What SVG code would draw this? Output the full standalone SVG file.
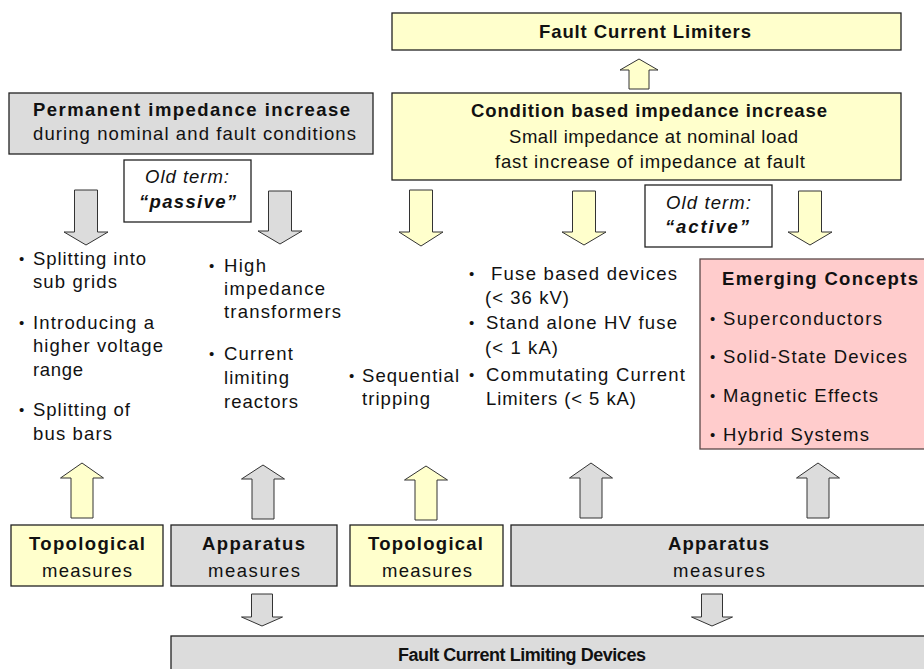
<svg xmlns="http://www.w3.org/2000/svg" width="924" height="669" viewBox="0 0 924 669">
  <style>
    .box { stroke: #222; stroke-width: 1.3; }
    .yel { fill: #FFFFCC; }
    .gry { fill: #DCDCDC; }
    .pnk { fill: #FFCCCC; stroke: #5a4848; }
    .wht { fill: #FFFFFF; }
    .arr { stroke: #333; stroke-width: 1; stroke-linejoin: miter; }
    text { font-family: "Liberation Sans", Arial, sans-serif; font-size: 18.5px; fill: #111; }
    .b { font-weight: bold; }
    .i { font-style: italic; }
    .dot { font-size: 15px; }
    .sm { font-size: 18px; }
  </style>

  <rect x="0" y="0" width="924" height="669" fill="#FFFFFF"/>

  <!-- arrows between the levels -->
  <g id="connectors">
    <!-- condition based -> fault current limiters -->
    <path class="arr yel" d="M629,89 V70 H620 L639,59 L658,70 H649 V89 Z"/>
    <!-- impedance classes -> measures lists -->
    <path class="arr gry" d="M74.5,190 H97.5 V232 H108 L86,245 L64,232 H74.5 Z"/>
    <path class="arr gry" d="M268.5,191 H291.5 V231 H302 L280,244 L258,231 H268.5 Z"/>
    <path class="arr yel" d="M409.5,190 H432.5 V232 H443 L421,246 L399,232 H409.5 Z"/>
    <path class="arr yel" d="M572.5,191 H595.5 V232 H606 L584,245 L562,232 H572.5 Z"/>
    <path class="arr yel" d="M798.5,191 H821.5 V232 H832 L810,245 L788,232 H798.5 Z"/>
    <!-- measures -> lists -->
    <path class="arr yel" d="M71,518 V478 H60.5 L82,463 L103.5,478 H93 V518 Z"/>
    <path class="arr gry" d="M252,519 V479 H241.5 L263,465 L284.5,479 H274 V519 Z"/>
    <path class="arr yel" d="M415,520 V480 H404.5 L426,466 L447.5,480 H437 V520 Z"/>
    <path class="arr gry" d="M580,518 V478 H569.5 L591,463 L612.5,478 H602 V518 Z"/>
    <path class="arr gry" d="M807,518 V478 H796.5 L818,463 L839.5,478 H829 V518 Z"/>
    <!-- apparatus measures -> devices -->
    <path class="arr gry" d="M251.5,594 H272.5 V617 H282.5 L262,626 L241.5,617 H251.5 Z"/>
    <path class="arr gry" d="M701.5,594 H722.5 V617 H732.5 L712,626 L691.5,617 H701.5 Z"/>
  </g>

  <g id="fault-current-limiters">
    <rect class="box yel" x="392" y="13" width="509" height="37"/>
    <text class="b" x="539" y="38" textLength="212">Fault Current Limiters</text>
  </g>

  <g id="condition-based">
    <rect class="box yel" x="392" y="93" width="509" height="87"/>
    <text class="b" x="471" y="117" textLength="356">Condition based impedance increase</text>
    <text x="509" y="143" textLength="289">Small impedance at nominal load</text>
    <text x="495" y="168" textLength="310">fast increase of impedance at fault</text>
  </g>

  <g id="permanent">
    <rect class="box gry" x="9" y="93" width="364" height="61"/>
    <text class="b" x="33" y="116" textLength="317">Permanent impedance increase</text>
    <text x="33" y="140" textLength="323">during nominal and fault conditions</text>
  </g>

  <g id="old-term-passive">
    <rect class="box wht" x="124" y="160" width="127" height="62"/>
    <text class="i" x="145" y="183" textLength="84">Old term:</text>
    <text class="b i" x="139" y="208" textLength="97">“passive”</text>
  </g>

  <g id="old-term-active">
    <rect class="box wht" x="645" y="185" width="127" height="62"/>
    <text class="i" x="666" y="209" textLength="85">Old term:</text>
    <text class="b i" x="665" y="233" textLength="84">“active”</text>
  </g>

  <g id="topological-list">
    <text class="dot" x="19" y="264">•</text>
    <text x="33" y="265" textLength="113">Splitting into</text>
    <text x="33" y="288" textLength="84">sub grids</text>
    <text class="dot" x="19" y="328">•</text>
    <text x="33" y="329" textLength="121">Introducing a</text>
    <text x="33" y="352" textLength="130">higher voltage</text>
    <text x="33" y="376" textLength="50">range</text>
    <text class="dot" x="19" y="415">•</text>
    <text x="33" y="416" textLength="97">Splitting of</text>
    <text x="33" y="440" textLength="79">bus bars</text>
  </g>

  <g id="apparatus-list">
    <text class="dot" x="209" y="271">•</text>
    <text x="224" y="272" textLength="42">High</text>
    <text x="224" y="295" textLength="101">impedance</text>
    <text x="224" y="318" textLength="117">transformers</text>
    <text class="dot" x="209" y="359">•</text>
    <text x="224" y="360" textLength="69">Current</text>
    <text x="224" y="384" textLength="65">limiting</text>
    <text x="224" y="408" textLength="74">reactors</text>
  </g>

  <g id="sequential-list">
    <text class="dot" x="349" y="381">•</text>
    <text x="362" y="382" textLength="97">Sequential</text>
    <text x="362" y="405" textLength="68">tripping</text>
  </g>

  <g id="limiter-list">
    <text class="dot" x="469" y="279">•</text>
    <text x="491" y="280" textLength="186">Fuse based devices</text>
    <text x="485" y="304" textLength="84">(&lt; 36 kV)</text>
    <text class="dot" x="469" y="328">•</text>
    <text x="486" y="329" textLength="191">Stand alone HV fuse</text>
    <text x="485" y="354" textLength="73">(&lt; 1 kA)</text>
    <text class="dot" x="469" y="380">•</text>
    <text x="486" y="381" textLength="199">Commutating Current</text>
    <text x="486" y="405" textLength="150">Limiters (&lt; 5 kA)</text>
  </g>

  <g id="emerging-concepts">
    <rect class="box pnk" x="700" y="259" width="226" height="190"/>
    <text class="b" x="722" y="285" textLength="196">Emerging Concepts</text>
    <text class="dot" x="710" y="324">•</text>
    <text x="723" y="325" textLength="159">Superconductors</text>
    <text class="dot" x="710" y="362">•</text>
    <text x="723" y="363" textLength="184">Solid-State Devices</text>
    <text class="dot" x="710" y="401">•</text>
    <text x="723" y="402" textLength="155">Magnetic Effects</text>
    <text class="dot" x="710" y="440">•</text>
    <text x="723" y="441" textLength="146">Hybrid Systems</text>
  </g>

  <g id="topological-1">
    <rect class="box yel" x="11" y="525" width="152" height="61"/>
    <text class="b" x="29" y="550" textLength="116">Topological</text>
    <text x="42" y="577" textLength="90">measures</text>
  </g>

  <g id="apparatus-1">
    <rect class="box gry" x="171" y="525" width="166" height="61"/>
    <text class="b" x="202" y="550" textLength="103">Apparatus</text>
    <text x="208" y="577" textLength="92">measures</text>
  </g>

  <g id="topological-2">
    <rect class="box yel" x="350" y="525" width="153" height="61"/>
    <text class="b" x="368" y="550" textLength="115">Topological</text>
    <text x="382" y="577" textLength="90">measures</text>
  </g>

  <g id="apparatus-2">
    <rect class="box gry" x="511" y="525" width="415" height="61"/>
    <text class="b" x="668" y="550" textLength="101">Apparatus</text>
    <text x="673" y="577" textLength="92">measures</text>
  </g>

  <g id="fault-current-limiting-devices">
    <rect class="box gry" x="171" y="636" width="755" height="40"/>
    <text class="b sm" x="398" y="661" textLength="248">Fault Current Limiting Devices</text>
  </g>
</svg>
